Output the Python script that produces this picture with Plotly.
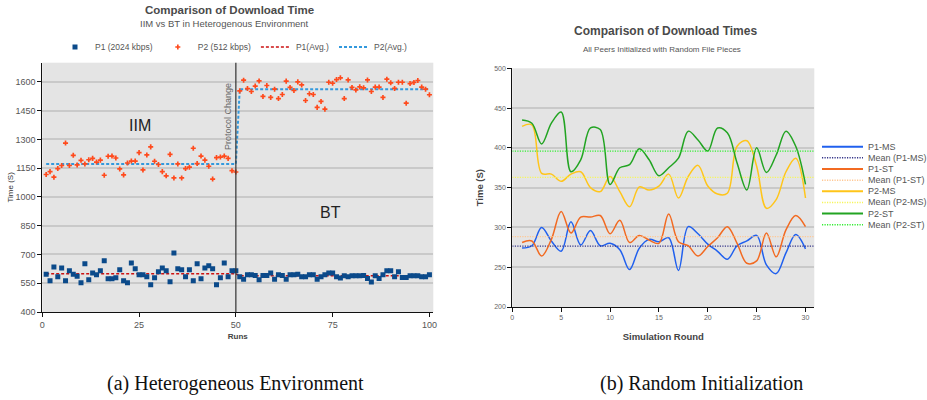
import plotly.graph_objects as go

# ---------------- Left chart data (a) ----------------
RUNS = list(range(1, 101))
P1_TIMES = [
    597, 563, 635, 584, 630, 563, 615, 597, 587, 552,
    651, 568, 604, 594, 615, 667, 573, 573, 578, 620,
    563, 552, 656, 625, 594, 594, 584, 542, 578, 610,
    630, 615, 558, 708, 625, 620, 584, 620, 563, 651,
    573, 630, 641, 625, 542, 578, 656, 584, 615, 615,
    584, 571, 594, 594, 590, 568, 590, 590, 603, 571,
    594, 590, 571, 594, 594, 597, 584, 584, 594, 594,
    571, 584, 594, 603, 603, 584, 577, 589, 584, 589,
    589, 589, 590, 575, 556, 589, 575, 594, 615, 615,
    584, 610, 580, 580, 589, 589, 589, 584, 584, 594,
]
P2_TIMES = [
    1117, 1132, 1103, 1148, 1164, 1281, 1164, 1217, 1167, 1191,
    1172, 1194, 1201, 1182, 1192, 1113, 1212, 1213, 1203, 1146,
    1115, 1177, 1187, 1187, 1231, 1141, 1219, 1261, 1186, 1169,
    1132, 1110, 1222, 1099, 1172, 1099, 1148, 1155, 1254, 1174,
    1213, 1192, 1160, 1093, 1205, 1208, 1213, 1201, 1137, 1130,
    1553, 1609, 1565, 1550, 1578, 1605, 1524, 1581, 1519, 1562,
    1513, 1534, 1604, 1571, 1555, 1600, 1584, 1503, 1538, 1534,
    1467, 1498, 1458, 1598, 1593, 1612, 1621, 1513, 1610, 1571,
    1558, 1574, 1569, 1610, 1550, 1573, 1573, 1519, 1614, 1595,
    1566, 1598, 1598, 1489, 1591, 1597, 1607, 1573, 1562, 1533,
]
P1_AVG_PHASES = [599, 589]      # IIM phase, BT phase
P2_AVG_PHASES = [1172, 1562]
PROTOCOL_CHANGE_RUN = 50
LEFT_XTICKS = [0, 25, 50, 75, 100]
LEFT_YTICKS = [400, 550, 700, 850, 1000, 1150, 1300, 1450, 1600]

# ---------------- Right chart data (b) ----------------
ROUNDS = list(range(1, 31))
P1_MS = [274, 277, 300, 283, 270, 307, 278, 296, 277, 280, 272, 247, 274, 285, 282,
         287, 246, 301, 292, 279, 270, 260, 277, 283, 290, 253, 242, 268, 291, 273]
P1_ST = [281, 283, 264, 285, 320, 293, 313, 313, 315, 292, 309, 281, 290, 284, 280,
         317, 282, 277, 264, 276, 287, 301, 280, 255, 258, 293, 263, 297, 315, 301]
P2_MS = [427, 429, 368, 367, 358, 367, 370, 350, 345, 364, 345, 326, 351, 347, 352,
         367, 337, 364, 378, 352, 342, 343, 402, 409, 377, 324, 335, 370, 387, 337]
P2_ST = [435, 431, 405, 431, 445, 370, 385, 425, 423, 354, 375, 379, 399, 385, 365,
         375, 387, 421, 410, 396, 425, 419, 381, 347, 400, 369, 391, 421, 402, 354]
MEAN_P1_MS = 276.5
MEAN_P1_ST = 288.5
MEAN_P2_MS = 363
MEAN_P2_ST = 396
RIGHT_XTICKS = [0, 5, 10, 15, 20, 25, 30]
RIGHT_YTICKS = [200, 250, 300, 350, 400, 450, 500]
RIGHT_XRANGE = [0, 30.9]

W, H = 927, 400
FONT = "Liberation Sans, Arial, sans-serif"
SERIF = "Liberation Serif, Times New Roman, serif"
BG = "#e4e4e4"
GRID = "#c9c9c9"
FINE_DOT = "1.2px,1.3px"


def px(xp):
    return xp / W


def py(yp):
    return 1 - yp / H


fig = go.Figure()

# ---- left chart ----
p1_avg = [P1_AVG_PHASES[0] if r <= PROTOCOL_CHANGE_RUN else P1_AVG_PHASES[1] for r in RUNS]
p2_avg = [P2_AVG_PHASES[0] if r <= PROTOCOL_CHANGE_RUN else P2_AVG_PHASES[1] for r in RUNS]

fig.add_trace(go.Scatter(x=RUNS, y=p1_avg, mode="lines", name="P1(Avg.)", legendrank=3,
                         line=dict(color="#cc1111", dash="3px,2px", width=1.5),
                         xaxis="x", yaxis="y"))
fig.add_trace(go.Scatter(x=RUNS, y=p2_avg, mode="lines", name="P2(Avg.)", legendrank=4,
                         line=dict(color="#3399dd", dash="3px,2px", width=2),
                         xaxis="x", yaxis="y"))
fig.add_trace(go.Scatter(x=RUNS, y=P1_TIMES, mode="markers", name="P1 (2024 kbps)", legendrank=1,
                         marker=dict(symbol="square", size=5, color="#0b4a8a"),
                         xaxis="x", yaxis="y"))
fig.add_trace(go.Scatter(x=RUNS, y=P2_TIMES, mode="markers", name="P2 (512 kbps)", legendrank=2,
                         marker=dict(symbol="cross", size=4.2, color="#ff4a1c"),
                         xaxis="x", yaxis="y"))

# ---- right chart ----
right_series = [
    ("P1-MS", P1_MS, "#2060ee", "solid", 1.5),
    ("Mean (P1-MS)", MEAN_P1_MS, "#333388", FINE_DOT, 1.3),
    ("P1-ST", P1_ST, "#f26a21", "solid", 1.5),
    ("Mean (P1-ST)", MEAN_P1_ST, "#ffc894", FINE_DOT, 1.3),
    ("P2-MS", P2_MS, "#ffc51a", "solid", 1.5),
    ("Mean (P2-MS)", MEAN_P2_MS, "#f6f65a", FINE_DOT, 1.3),
    ("P2-ST", P2_ST, "#22a422", "solid", 1.5),
    ("Mean (P2-ST)", MEAN_P2_ST, "#33ee33", FINE_DOT, 1.3),
]
for name, vals, color, dash, w in right_series:
    if isinstance(vals, list):
        fig.add_trace(go.Scatter(x=ROUNDS, y=vals, mode="lines", name=name, showlegend=False,
                                 line=dict(color=color, width=w, shape="spline", smoothing=1.0),
                                 xaxis="x2", yaxis="y2"))
    else:
        fig.add_trace(go.Scatter(x=RIGHT_XRANGE, y=[vals, vals], mode="lines", name=name,
                                 showlegend=False, line=dict(color=color, width=w, dash=dash),
                                 xaxis="x2", yaxis="y2"))

# manual compact legend for the right chart
shapes = []
annotations = []
leg_y0, leg_dy = 146.7, 11.15
for i, (name, vals, color, dash, w) in enumerate(right_series):
    yy = py(leg_y0 + i * leg_dy)
    shapes.append(dict(type="line", xref="paper", yref="paper", x0=px(822), x1=px(863),
                       y0=yy, y1=yy, line=dict(color=color, width=2 if dash == "solid" else 1.5,
                                               dash=dash)))
    annotations.append(dict(text=name, xref="paper", yref="paper", x=px(865.5), y=yy,
                            xanchor="left", yanchor="middle", showarrow=False,
                            font=dict(family=FONT, size=9, color="#555")))

# protocol change line
shapes.append(dict(type="line", xref="x", yref="y domain", x0=PROTOCOL_CHANGE_RUN,
                   x1=PROTOCOL_CHANGE_RUN, y0=0, y1=1, line=dict(color="#333", width=1.2)))

annotations += [
    dict(text="<b>Comparison of Download Time</b>", x=px(229), y=py(10), xref="paper", yref="paper",
         showarrow=False, xanchor="center", yanchor="middle",
         font=dict(family=FONT, size=11.5, color="#4a4a4a")),
    dict(text="IIM vs BT in Heterogenous Environment", x=px(224), y=py(23), xref="paper",
         yref="paper", showarrow=False, xanchor="center", yanchor="middle",
         font=dict(family=FONT, size=9.5, color="#555")),
    dict(text="<b>Comparison of Download Times</b>", x=px(665), y=py(31), xref="paper",
         yref="paper", showarrow=False, xanchor="center", yanchor="middle",
         font=dict(family=FONT, size=12, color="#4a4a4a")),
    dict(text="All Peers Initialized with Random File Pieces", x=px(662), y=py(49.5),
         xref="paper", yref="paper", showarrow=False, xanchor="center", yanchor="middle",
         font=dict(family=FONT, size=8, color="#555")),
    dict(text="IIM", x=px(140), y=py(125), xref="paper", yref="paper", showarrow=False,
         xanchor="center", yanchor="middle", font=dict(family=FONT, size=16, color="#222")),
    dict(text="BT", x=px(330), y=py(212), xref="paper", yref="paper", showarrow=False,
         xanchor="center", yanchor="middle", font=dict(family=FONT, size=16, color="#222")),
    dict(text="Protocol Change", x=px(228), y=py(117), xref="paper", yref="paper",
         showarrow=False, textangle=-90, xanchor="center", yanchor="middle",
         font=dict(family=FONT, size=9, color="#666")),
    dict(text="(a) Heterogeneous Environment", x=px(235), y=py(383), xref="paper", yref="paper",
         showarrow=False, xanchor="center", yanchor="middle",
         font=dict(family=SERIF, size=20, color="#111")),
    dict(text="(b) Random Initialization", x=px(701), y=py(383), xref="paper", yref="paper",
         showarrow=False, xanchor="center", yanchor="middle",
         font=dict(family=SERIF, size=20, color="#111")),
]

axis_common = dict(showline=True, linecolor="#111", linewidth=1, ticks="outside", ticklen=4,
                   tickcolor="#111", zeroline=False, automargin=False)

fig.update_layout(
    width=W, height=H,
    margin=dict(l=0, r=0, t=0, b=0, autoexpand=False),
    paper_bgcolor="white",
    plot_bgcolor=BG,
    font=dict(family=FONT, color="#555"),
    xaxis=dict(domain=[px(42.3), px(433.3)], range=[0, 101], tickvals=LEFT_XTICKS,
               showgrid=False, anchor="y", tickfont=dict(size=9, color="#555"),
               title=dict(text="<b>Runs</b>", font=dict(size=8, color="#444"), standoff=4),
               **axis_common),
    yaxis=dict(domain=[1 - 312 / H, 1 - 62.7 / H], range=[400, 1700], tickvals=LEFT_YTICKS,
               showgrid=True, gridcolor=GRID, gridwidth=1.5, anchor="x",
               tickfont=dict(size=9, color="#555"),
               title=dict(text="Time (S)", font=dict(size=8, color="#333"), standoff=0),
               **axis_common),
    xaxis2=dict(domain=[px(512.3), px(814.3)], range=RIGHT_XRANGE, tickvals=RIGHT_XTICKS,
                showgrid=False, anchor="y2", tickfont=dict(size=7, color="#666"),
                title=dict(text="<b>Simulation Round</b>", font=dict(size=9.5, color="#444"),
                           standoff=12),
                **axis_common),
    yaxis2=dict(domain=[1 - 307 / H, 1 - 68.3 / H], range=[200, 500], tickvals=RIGHT_YTICKS,
                showgrid=True, gridcolor=GRID, gridwidth=1.5, anchor="x2",
                tickfont=dict(size=7, color="#666"),
                title=dict(text="<b>Time (S)</b>", font=dict(size=9.5, color="#444"),
                           standoff=8),
                **axis_common),
    legend=dict(orientation="h", x=px(234), y=py(47), xanchor="center", yanchor="middle",
                font=dict(family=FONT, size=8.5, color="#555"), bgcolor="rgba(0,0,0,0)",
                traceorder="normal", itemwidth=30),
    shapes=shapes,
    annotations=annotations,
)

fig.write_html("out.html", config={"displayModeBar": False},
               post_script="document.body.style.margin='0';document.body.style.overflow='hidden';")
